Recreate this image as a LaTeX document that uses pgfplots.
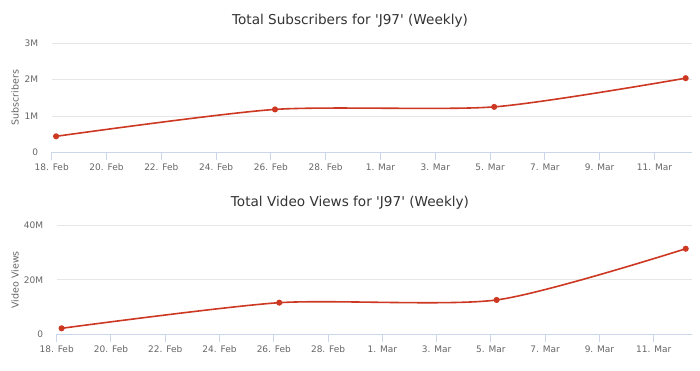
\documentclass[border=0pt]{standalone}
\usepackage{fontspec}
\setmainfont{DejaVu Sans}
\usepackage{pgfplots}
\pgfplotsset{compat=1.18}
\definecolor{serie}{RGB}{204,56,34}
\definecolor{gridc}{RGB}{230,230,230}
\definecolor{axisc}{RGB}{204,214,235}
\definecolor{tickc}{RGB}{102,102,102}
\definecolor{titlec}{RGB}{51,51,51}
\pgfplotsset{
  hc/.style={
    scale only axis,
    anchor=north west,
    axis lines*=left,
    y axis line style={draw=none},
    x axis line style={axisc, line width=1pt},
    ytick style={draw=none},
    xtick style={axisc, line width=1pt},
    tick align=outside,
    major tick length=8pt,
    ymajorgrids,
    grid style={gridc, line width=0.8pt},
    xmin=0,
    xtick={0,2,...,22},
    xticklabels={18. Feb,20. Feb,22. Feb,24. Feb,26. Feb,28. Feb,1. Mar,3. Mar,5. Mar,7. Mar,9. Mar,11. Mar},
    tick label style={font=\fontsize{9}{10}\selectfont, color=tickc},
    yticklabel shift=2pt,
    /pgf/number format/assume math mode=true,
    clip=false,
  },
  hcline/.style={serie, line width=1.6pt, smooth, tension=0.42, mark=*, mark size=2.2pt, mark options={fill=serie, draw=serie}},
}
\begin{document}
\begin{tikzpicture}
\useasboundingbox (0pt,0pt) rectangle (700pt,371pt);
\node[font=\fontsize{13.6}{16}\selectfont, color=titlec] at (350pt,350pt) {Total Subscribers for \textquotesingle J97\textquotesingle\ (Weekly)};
\node[font=\fontsize{13.6}{16}\selectfont, color=titlec] at (350pt,168pt) {Total Video Views for \textquotesingle J97\textquotesingle\ (Weekly)};
\begin{axis}[hc,
  at={(51.7pt,327.7pt)},
  width=640pt, height=109pt,
  xmax=23.36,
  ymin=0, ymax=3,
  ytick={0,1,2,3}, yticklabels={0,1M,2M,3M},
  ylabel={Subscribers},
  every axis y label/.style={at={(rel axis cs:0,0.5)}, xshift=-36.7pt, rotate=90, anchor=center, font=\fontsize{9.5}{11}\selectfont, color=tickc},
]
\addplot[hcline] coordinates {(0.16,0.44) (8.15,1.18) (16.15,1.25) (23.14,2.04)};
\end{axis}
\begin{axis}[hc,
  at={(56.7pt,145.7pt)},
  width=635pt, height=109pt,
  xmax=23.4,
  ymin=0, ymax=40,
  ytick={0,20,40}, yticklabels={0,20M,40M},
  ylabel={Video Views},
  every axis y label/.style={at={(rel axis cs:0,0.5)}, xshift=-41.7pt, rotate=90, anchor=center, font=\fontsize{9.5}{11}\selectfont, color=tickc},
]
\addplot[hcline] coordinates {(0.18,2.2) (8.2,11.6) (16.21,12.6) (23.18,31.4)};
\end{axis}
\end{tikzpicture}
\end{document}
